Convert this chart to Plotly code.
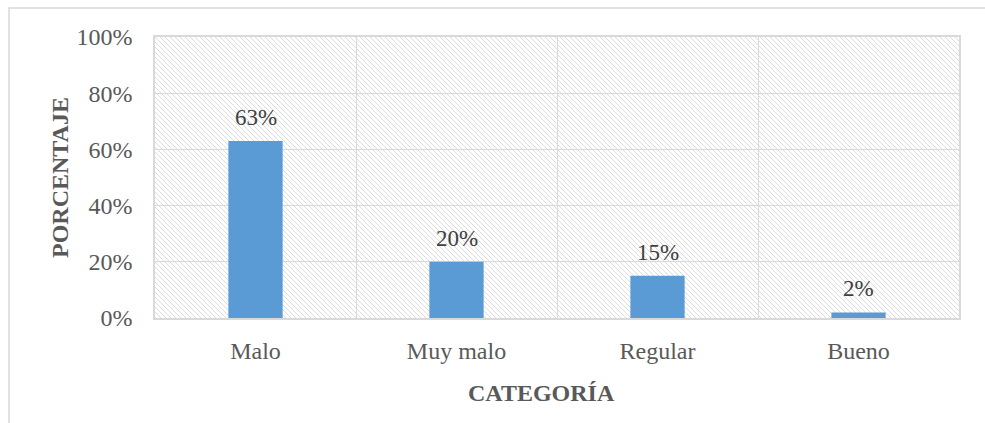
import base64
import plotly.graph_objects as go

categories = ["Malo", "Muy malo", "Regular", "Bueno"]
porcentajes = [0.63, 0.20, 0.15, 0.02]
y_ticks = [0, 0.2, 0.4, 0.6, 0.8, 1.0]
y_ticklabels = ["0%", "20%", "40%", "60%", "80%", "100%"]

W, H = 985, 423
L, R, T, B = 155, 26, 37, 105
pw, ph = W - L - R, H - T - B

# diagonal hatch behind the plot area, as an inline svg
svg = (
    f'<svg xmlns="http://www.w3.org/2000/svg" width="{pw}" height="{ph}">'
    '<defs><pattern id="h" patternUnits="userSpaceOnUse" width="5" height="5">'
    '<path d="M-1,-1 L6,6 M-1,4 L1,6 M4,-1 L6,1" stroke="#d8d8d8" stroke-width="0.9"/>'
    '</pattern></defs>'
    f'<rect width="{pw}" height="{ph}" fill="white"/>'
    f'<rect width="{pw}" height="{ph}" fill="url(#h)"/></svg>'
)
hatch = "data:image/svg+xml;base64," + base64.b64encode(svg.encode()).decode()

serif = "Liberation Serif, Times New Roman, serif"

fig = go.Figure()
fig.add_trace(go.Bar(
    x=categories, y=porcentajes, width=0.27,
    marker=dict(color="#5b9bd5", line=dict(width=0)),
    hoverinfo="skip",
))

# value labels above the bars
labels = [dict(x=c, y=v, text=f"{round(v * 100)}%", showarrow=False,
               yanchor="bottom", yshift=9,
               font=dict(family=serif, size=23, color="#404040"))
          for c, v in zip(categories, porcentajes)]

fig.update_layout(
    width=W, height=H,
    margin=dict(l=L, r=R, t=T, b=B, autoexpand=False),
    paper_bgcolor="white", plot_bgcolor="rgba(0,0,0,0)",
    showlegend=False,
    font=dict(family=serif, size=24, color="#595959"),
    images=[dict(source=hatch, xref="paper", yref="paper", x=0, y=1,
                 sizex=1, sizey=1, xanchor="left", yanchor="top",
                 sizing="stretch", layer="below")],
    shapes=[dict(type="rect", xref="paper", yref="paper",
                 x0=(9 - L) / pw, x1=(W + 5 - L) / pw,
                 y0=-(H + 5 - T - ph) / ph, y1=1 + (T - 8) / ph,
                 line=dict(color="#d9d9d9", width=1.5))],
    annotations=labels + [
        dict(text="<b>CATEGORÍA</b>", xref="paper", yref="paper",
             x=(541 - L) / pw, y=-(393 - T - ph) / ph, showarrow=False,
             xanchor="center", yanchor="middle",
             font=dict(size=24, color="#595959")),
        dict(text="<b>PORCENTAJE</b>", xref="paper", yref="paper",
             x=-(L - 60) / pw, y=(318 - 178) / ph, textangle=-90, showarrow=False,
             xanchor="center", yanchor="middle",
             font=dict(size=24, color="#595959")),
    ],
)
fig.update_xaxes(
    tickson="boundaries", showgrid=True, gridcolor="#d9d9d9", gridwidth=1,
    showline=True, linecolor="#d9d9d9", linewidth=1.5, mirror=True,
    ticks="", ticklabelstandoff=10, fixedrange=True,
    tickfont=dict(family=serif, size=24, color="#595959"),
)
fig.update_yaxes(
    range=[0, 1], tickvals=y_ticks, ticktext=y_ticklabels,
    showgrid=True, gridcolor="#d9d9d9", gridwidth=1,
    showline=True, linecolor="#d9d9d9", linewidth=1.5, mirror=True,
    zeroline=False, ticks="", ticklabelstandoff=16, fixedrange=True,
    tickfont=dict(family=serif, size=24, color="#595959"),
)

fig.write_html("out.html", config={"displayModeBar": False},
               post_script="document.body.style.margin='0';")
